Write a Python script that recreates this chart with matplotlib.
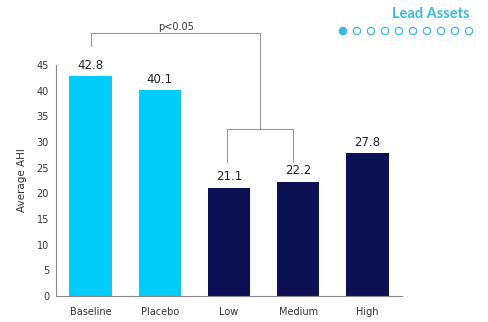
import matplotlib.pyplot as plt
import numpy as np

groups = ["Baseline", "Placebo", "Low", "Medium", "High"]
ahi = [42.8, 40.1, 21.1, 22.2, 27.8]
bar_colors = ["#00CCFA", "#00CCFA", "#0B1153", "#0B1153", "#0B1153"]
y_ticks = [0, 5, 10, 15, 20, 25, 30, 35, 40, 45]
sig_label = "p<0.05"
brand = "Lead Assets"
n_pages = 10

fig = plt.figure(figsize=(4.88, 3.22), dpi=100)
ax = fig.add_axes([56 / 488, 26 / 322, 346 / 488, 231 / 322])

x = np.arange(len(groups))
ax.bar(x, ahi, width=0.61, color=bar_colors)
for xi, v in zip(x, ahi):
    ax.text(xi, v + 0.9, f"{v:.1f}", ha="center", va="bottom", fontsize=8.5, color="#222222")

ax.set_xlim(-0.5, 4.5)
ax.set_ylim(0, 45)
ax.set_yticks(y_ticks)
ax.set_xticks(x)
ax.set_xticklabels(groups)
ax.tick_params(axis="both", length=0, labelsize=7, colors="#333333", pad=5)
ax.tick_params(axis="x", pad=8)
ax.set_ylabel("Average AHI", fontsize=7.5, color="#333333", labelpad=7)
for side in ["top", "right"]:
    ax.spines[side].set_visible(False)
for side in ["left", "bottom"]:
    ax.spines[side].set_color("#888888")
    ax.spines[side].set_linewidth(0.8)

# significance brackets
lc = "#999999"
lw = 0.8
top_y, mid_y, low_leg = 51.2, 32.5, 26.1
xl, xr = 1.97, 2.93
xm = (xl + xr) / 2
ax.plot([0.01, 0.01, xm, xm], [48.7, top_y, top_y, mid_y], color=lc, lw=lw, clip_on=False)
ax.plot([xl, xl, xr, xr], [low_leg, mid_y, mid_y, low_leg], color=lc, lw=lw, clip_on=False)
ax.text(1.23, top_y + 0.3, sig_label, ha="center", va="bottom", fontsize=7, color="#333333")

# header branding
fig.text(470 / 488, 1 - 14 / 322, brand, ha="right", va="center",
         fontsize=10.5, fontweight="bold", color="#3DB8E6", family="Lato")
dot_ax = fig.add_axes([336 / 488, 1 - 38 / 322, 140 / 488, 14 / 322])
dx = np.arange(n_pages)
dot_ax.scatter(dx, np.zeros(n_pages), s=28, facecolors=["#3DB8E6"] + ["white"] * (n_pages - 1),
               edgecolors="#3DB8E6", linewidths=0.9)
dot_ax.set_xlim(-0.5, n_pages - 0.5)
dot_ax.set_ylim(-1, 1)
dot_ax.axis("off")

fig.savefig("out.png", dpi=100)
